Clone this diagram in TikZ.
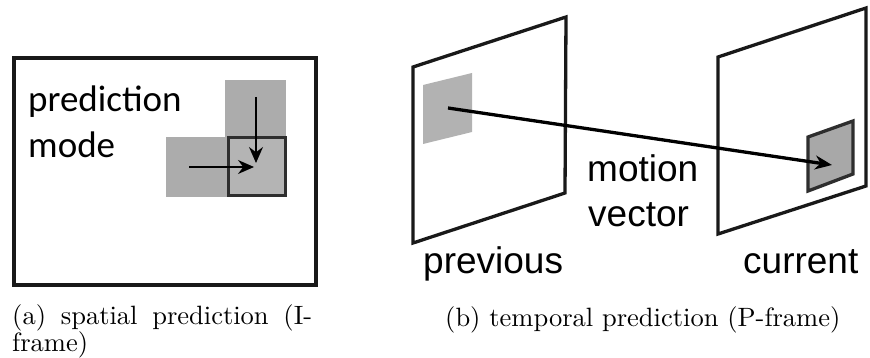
\documentclass[tikz,border=0pt]{standalone}
\usepackage{graphicx}
\usepackage{fontspec}
\newfontfamily\calib{Carlito}
\newfontfamily\arialf{Liberation Sans}
\usetikzlibrary{arrows.meta}
\definecolor{blockgray}{HTML}{ACACAC}
\definecolor{centergray}{HTML}{B4B4B4}
\definecolor{patchgray}{HTML}{A8A8A8}
\definecolor{prevgray}{HTML}{B2B2B2}
\definecolor{edgegray}{HTML}{2E2E2E}
\tikzset{
  framebox/.style={draw=black!90, line width=3.3pt},
  graybox/.style={fill=blockgray, draw=none},
  thinarrow/.style={line width=1.5pt, -{Stealth[length=16pt,width=14pt]}},
  thickarrow/.style={line width=3.3pt, -{Stealth[length=17pt,width=14pt]}},
  calibtext/.style={font=\calib\fontsize{37}{45}\selectfont, anchor=base west, inner sep=0pt},
  ariatext/.style={font=\arialf\fontsize{37}{45}\selectfont, anchor=base west, inner sep=0pt},
  captext/.style={font=\fontsize{10}{12}\selectfont, anchor=base west, inner sep=0pt}
}
\begin{document}
\begin{tikzpicture}[x=1pt,y=-1pt]
\useasboundingbox (0,0) rectangle (870,358);
% ---------- (a) spatial prediction ----------
\draw[framebox] (14,58) rectangle (316,285);
\node[calibtext] (pred) at (28,112) {prediction};
\node[calibtext] (mode) at (28,158) {mode};
\fill[graybox] (225,80) rectangle (286,137);
\fill[graybox] (166,137) rectangle (227,197);
\draw[fill=centergray, draw=edgegray, line width=3pt] (228,138) rectangle (285,196);
\coordinate (vs) at (256,97);
\coordinate (ve) at (256,163);
\coordinate (hs) at (189,167);
\coordinate (he) at (254,167);
\draw[thinarrow] (vs) -- (ve);
\draw[thinarrow] (hs) -- (he);
% ---------- (b) temporal prediction ----------
\draw[framebox, line join=miter] (413,67) -- (566,17) -- (565,193) -- (413,243) -- cycle;
\fill[prevgray] (423,85) -- (472,73) -- (472,132) -- (423,144) -- cycle;
\draw[framebox, line join=miter] (718,57) -- (866,8) -- (866,186) -- (718,234) -- cycle;
\draw[fill=patchgray, draw=edgegray, line width=3.3pt] (808,137) -- (853,121) -- (853,174) -- (808,191) -- cycle;
\coordinate (ms) at (448,108);
\coordinate (me) at (832,165);
\draw[thickarrow] (ms) -- (me);
\node[ariatext] (motion) at (587,182) {motion};
\node[ariatext] (vector) at (588,227) {vector};
\node[ariatext] (prev) at (423,273) {previous};
\node[ariatext] (curr) at (743,273) {current};
% ---------- captions ----------
\node[captext] (capa) at (12,324) {\scalebox{2.65}{\makebox[113.2pt][s]{(a) spatial prediction (I-}}};
\node[captext] (capa2) at (12,351) {\scalebox{2.65}{frame)}};
\node[captext] (capb) at (445,326) {\scalebox{2.65}{(b) temporal prediction (P-frame)}};
\end{tikzpicture}
\end{document}
